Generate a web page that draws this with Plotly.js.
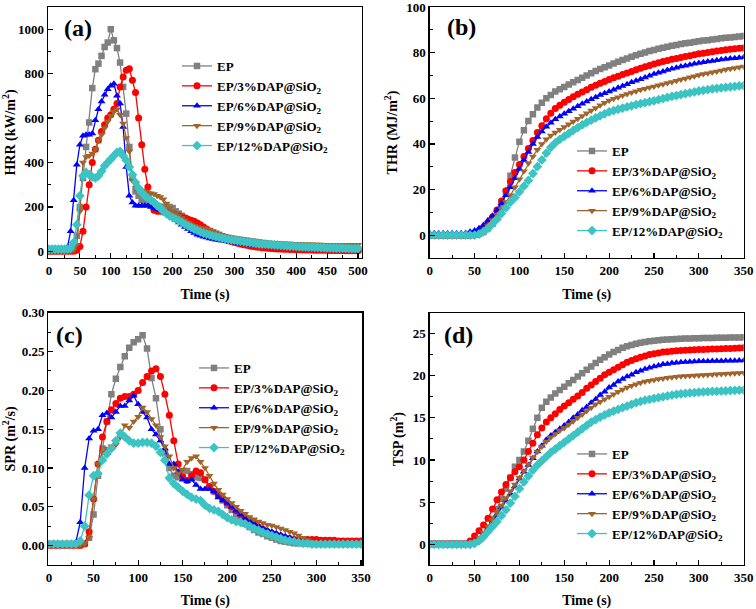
<!DOCTYPE html>
<html><head><meta charset="utf-8">
<script src="https://cdn.plot.ly/plotly-3.0.1.min.js"></script>
<style>html,body{margin:0;padding:0;background:#fff}#chart{width:756px;height:609px}</style>
</head><body><div id="chart"></div>
<script>
// ---------- series names ----------
const names = ['EP','EP/3%DAP@SiO<sub>2</sub>','EP/6%DAP@SiO<sub>2</sub>','EP/9%DAP@SiO<sub>2</sub>','EP/12%DAP@SiO<sub>2</sub>'];
// sampling: every 5 s starting at 0 s
const T_START = 0, T_STEP = 5;

// ---------- (a) HRR, kW/m2, 0-500 s ----------
const hrrEP = [5,5,5,5,5,5,5,8,20,70, 200,330,470,580,735,820,845,880,920,940, 1000,950,915,850,740,620,470,330,270,250,
 232,225,220,215,210,205,200,200,200,200, 195,180,170,160,150,140,130,122,115,107, 100,94,88,83,78,73,68,64,61,58,
 56,54,52,50,48,46,44,42,40,38, 36,34,33,32,30,29,28,27,26,25, 24,23,22,21,20,19,18,18,17,16, 16,15,14,14,13,13,12,12,11,11, 10];
const hrr3 = [0,0,0,0,0,0,0,0,0,5, 22,90,200,300,400,460,500,540,570,600, 615,640,665,740,785,815,822,770,715,600,
 480,370,290,220,185,180,180,178,175,172, 170,165,160,155,150,145,140,135,128,120, 110,100,90,82,74,66,60,54,48,44,
 40,36,33,30,27,24,22,20,18,16, 15,14,13,12,11,10,9,9,8,8, 7,7,6,6,6,6,5,5,5,5, 5,4,4,4,4,4,3,3,3,3, 3];
const hrr6 = [5,10,10,10,10,5,20,90,230,390, 480,520,525,525,530,590,640,675,705,730, 745,755,700,665,560,380,250,220,205,205,
 205,205,205,200,195,190,185,180,170,160, 150,140,130,120,110,100,90,82,75,70, 66,62,58,55,52,50,48,46,44,42,
 40,38,36,34,32,30,29,28,27,26, 25,24,23,22,21,20,19,18,17,16, 15,14,14,13,13,12,12,11,11,10, 10,10,9,9,9,8,8,8,8,8, 8];
const hrr9 = [0,0,0,0,0,0,0,0,5,30, 180,400,425,430,440,460,500,525,555,585, 610,630,640,615,575,510,450,320,285,280,
 275,270,265,262,258,250,245,235,215,195, 180,170,160,150,140,130,122,115,110,106, 104,102,98,92,86,80,74,68,64,60,
 58,55,53,51,49,47,45,44,43,42, 41,40,39,38,37,36,36,35,35,34, 34,33,33,32,32,32,31,31,31,30, 30,30,30,30,30,30,30,30,30,30, 30];
const hrr12 = [10,10,10,10,10,10,10,15,40,120, 250,340,355,345,335,330,340,360,385,400, 415,430,445,450,430,410,380,345,310,285,
 265,250,240,230,220,205,195,180,170,160, 152,145,138,130,122,115,108,100,94,88, 82,78,74,70,66,63,60,57,54,52,
 50,48,46,44,42,40,38,36,34,33, 32,31,30,29,28,27,26,25,24,23, 22,21,20,20,19,19,18,18,17,17, 16,16,15,15,14,14,13,13,12,12, 12];

// ---------- (b) THR, MJ/m2, 0-350 s ----------
const thrEP = [0,0,0,0,0,0,0,0,0,0, 0.2,0.5,1.5,3,5,7.5,12,19,26,34, 41,46,50,53,56,58,60,61.5,63,64,
 65,66,67,68,69,70,71,72,72.8,73.6, 74.4,75.2,76,76.8,77.5,78.2,78.9,79.5,80.1,80.7, 81.2,81.7,82.2,82.6,83,83.4,83.8,84.1,84.4,84.7,
 85,85.3,85.5,85.8,86,86.3,86.5,86.7,86.9,87.1, 87.3];
const thr3 = [0,0,0,0,0,0,0,0,0,0, 0.5,1.5,3,5,8,11,15,19.5,23.5,27.5, 31,34.5,38,41.5,45,48,51,53.5,55.5,57,
 58.3,59.5,60.7,61.8,62.8,63.8,64.8,65.7,66.6,67.4, 68.2,69,69.7,70.4,71.1,71.8,72.5,73.2,73.8,74.4, 75,75.6,76.1,76.6,77.1,77.5,77.9,78.3,78.7,79.1,
 79.5,79.8,80.1,80.4,80.7,81,81.3,81.5,81.7,81.9, 82.1];
const thr6 = [0.8,0.8,0.8,0.8,0.8,0.8,0.8,0.8,1,1.5, 2,3,4.5,6.5,8.5,11,14,17.5,21,25, 29,33,36.5,40,43,45.5,47.5,49.3,50.8,52,
 53.2,54.3,55.4,56.5,57.6,58.6,59.6,60.5,61.4,62.2, 63,63.8,64.6,65.4,66.2,67,67.7,68.4,69.1,69.9, 70.6,71.2,71.8,72.4,72.9,73.4,73.9,74.3,74.7,75.1,
 75.5,75.8,76.1,76.4,76.7,77,77.2,77.4,77.6,77.8, 78];
const thr9 = [0,0,0,0,0,0,0,0,0,0, 0,0.5,2,4,6.5,9,11.5,14.5,17.5,21, 24.5,28,31.5,34.5,37.5,40,42,43.7,45,46.2,
 47.4,48.6,49.8,51,52.2,53.4,54.6,55.8,57,58, 59,59.8,60.5,61.2,61.9,62.5,63.1,63.7,64.2,64.7, 65.2,65.7,66.2,66.7,67.2,67.7,68.2,68.7,69.2,69.7,
 70.2,70.6,71,71.4,71.8,72.2,72.6,73,73.3,73.6, 73.9];
const thr12 = [0,0,0,0,0,0,0,0,0,0, 0,0.5,1.5,3,5,7,9.5,12,14.5,16.5, 19,21.5,24,27,30,33,36,38.5,40.5,42,
 43.3,44.6,45.9,47.1,48.3,49.4,50.4,51.4,52.3,53.2, 54,54.6,55.2,55.7,56.2,56.7,57.2,57.7,58.1,58.5, 58.9,59.4,59.9,60.4,60.8,61.2,61.6,62,62.4,62.8,
 63.2,63.5,63.8,64.1,64.4,64.6,64.8,65,65.2,65.4, 65.6];

// ---------- (c) SPR, m2/s, 0-350 s ----------
const sprEP = [0.002,0.002,0.002,0.002,0.002,0.002,0.002,0.002,0.003,0.01, 0.04,0.09,0.125,0.16,0.195,0.215,0.23,0.244,0.255,0.262,
 0.266,0.271,0.254,0.216,0.19,0.15,0.12,0.1,0.09,0.088, 0.092,0.096,0.092,0.088,0.087,0.085,0.075,0.07,0.065,0.058,
 0.052,0.046,0.04,0.034,0.028,0.024,0.02,0.017,0.015,0.012, 0.01,0.008,0.006,0.005,0.004,0.003,0.003,0.003,0.003,0.002,
 0.002,0.002,0.002,0.002,0.002,0.002,0.002,0.002,0.002,0.002, 0.002];
const spr3 = [0,0,0,0,0,0,0,0,0.002,0.018, 0.06,0.105,0.14,0.16,0.175,0.183,0.19,0.192,0.192,0.195,
 0.2,0.21,0.218,0.225,0.228,0.218,0.195,0.168,0.135,0.105, 0.088,0.084,0.09,0.096,0.094,0.085,0.076,0.07,0.065,0.06,
 0.055,0.05,0.045,0.04,0.036,0.032,0.028,0.024,0.021,0.018, 0.016,0.014,0.012,0.01,0.009,0.008,0.008,0.008,0.008,0.008,
 0.008,0.007,0.007,0.007,0.007,0.006,0.006,0.006,0.006,0.006, 0.006];
const spr6 = [0.002,0.002,0.002,0.002,0.002,0.002,0.004,0.03,0.1,0.138, 0.148,0.15,0.168,0.171,0.165,0.172,0.18,0.18,0.187,0.193,
 0.182,0.172,0.165,0.15,0.143,0.135,0.125,0.105,0.105,0.095, 0.085,0.083,0.085,0.078,0.073,0.073,0.073,0.07,0.062,0.058,
 0.055,0.05,0.045,0.04,0.035,0.031,0.028,0.025,0.022,0.02, 0.018,0.016,0.014,0.012,0.01,0.008,0.007,0.006,0.005,0.004,
 0.004,0.003,0.003,0.003,0.003,0.003,0.003,0.003,0.003,0.003, 0.003];
const spr9 = [0,0,0,0,0,0,0,0,0.002,0.01, 0.06,0.105,0.12,0.125,0.128,0.13,0.14,0.155,0.152,0.16,
 0.166,0.178,0.172,0.163,0.155,0.14,0.128,0.115,0.1,0.093, 0.098,0.108,0.113,0.115,0.108,0.1,0.09,0.08,0.072,0.066,
 0.06,0.055,0.05,0.045,0.041,0.037,0.034,0.031,0.029,0.027, 0.026,0.024,0.022,0.02,0.018,0.016,0.013,0.01,0.007,0.005,
 0.003,0.002,0.002,0.002,0.002,0.002,0.002,0.002,0.002,0.002, 0.002];
const spr12 = [0.002,0.002,0.002,0.002,0.002,0.002,0.002,0.006,0.025,0.065, 0.09,0.093,0.11,0.118,0.125,0.135,0.145,0.14,0.135,0.132,
 0.132,0.133,0.133,0.132,0.128,0.12,0.11,0.087,0.08,0.075, 0.07,0.066,0.062,0.06,0.058,0.052,0.048,0.046,0.044,0.04,
 0.036,0.033,0.031,0.03,0.028,0.025,0.022,0.02,0.017,0.015, 0.013,0.011,0.009,0.007,0.006,0.005,0.004,0.003,0.003,0.002,
 0.002,0.002,0.002,0.002,0.002,0.002,0.002,0.002,0.002,0.002, 0.002];

// ---------- (d) TSP, m2, 0-350 s ----------
const tspEP = [0,0,0,0,0,0,0,0,0,0.1, 0.3,0.6,1.2,2,3,4.2,5.4,6.6,7.9,9.2, 10,11,12.3,13.7,15,16.2,16.9,17.4,17.9,18.3,
 18.7,19.1,19.5,19.9,20.3,20.7,21.1,21.5,21.9,22.2, 22.5,22.8,23.05,23.3,23.5,23.65,23.8,23.9,24,24.1,
 24.15,24.2,24.25,24.3,24.33,24.36,24.38,24.4,24.42,24.44, 24.45,24.46,24.47,24.48,24.49,24.5,24.51,24.52,24.53,24.54, 24.55];
const tsp3 = [0.1,0.1,0.1,0.1,0.1,0.1,0.1,0.1,0.1,0.4, 1,1.6,2.3,3.1,4.2,5.3,6.2,7.1,7.9,8.6, 9.2,10,11,12,13,13.8,14.5,15,15.5,16,
 16.4,16.8,17.2,17.6,18,18.5,18.9,19.3,19.7,20.1, 20.4,20.7,21,21.3,21.6,21.8,22,22.2,22.35,22.5,
 22.6,22.7,22.8,22.85,22.9,22.95,23,23.03,23.06,23.09, 23.1,23.12,23.14,23.16,23.18,23.2,23.22,23.24,23.26,23.28, 23.3];
const tsp6 = [0.1,0.1,0.1,0.1,0.1,0.1,0.1,0.1,0.1,0.1, 0.2,0.6,1.2,1.9,2.7,3.5,4.4,5.2,6,6.9, 7.8,8.6,9.4,10.2,11,11.7,12.4,12.9,13.3,13.7,
 14.1,14.5,15,15.4,15.9,16.3,16.8,17.2,17.7,18.1, 18.6,18.9,19.3,19.6,19.9,20.1,20.4,20.6,20.8,20.95,
 21.1,21.2,21.35,21.4,21.5,21.55,21.6,21.62,21.64,21.67, 21.7,21.71,21.72,21.73,21.74,21.75,21.76,21.77,21.78,21.79, 21.8];
const tsp9 = [0,0,0,0,0,0,0,0,0,0.1, 0.3,0.8,1.4,2.1,2.9,3.8,4.6,5.5,6.3,7.1, 7.9,8.7,9.5,10.3,11,11.6,12.2,12.7,13.1,13.5,
 13.8,14.2,14.6,15,15.4,15.8,16.2,16.6,16.9,17.2, 17.5,17.8,18.1,18.35,18.6,18.8,19,19.15,19.3,19.4,
 19.5,19.6,19.68,19.75,19.82,19.88,19.93,19.97,20,20.03, 20.05,20.08,20.11,20.14,20.17,20.2,20.23,20.26,20.29,20.32, 20.35];
const tsp12 = [0,0,0,0,0,0,0,0,0,0, 0.1,0.4,0.9,1.5,2.1,2.7,3.4,4.1,4.9,5.7, 6.6,7.4,8.1,8.8,9.4,9.9,10.4,10.9,11.3,11.7,
 12.1,12.5,12.9,13.3,13.7,14.1,14.5,14.8,15.1,15.35, 15.6,15.8,16,16.2,16.4,16.6,16.8,16.95,17.1,17.2,
 17.3,17.4,17.5,17.6,17.7,17.78,17.85,17.9,17.95,18, 18.05,18.08,18.1,18.13,18.15,18.18,18.2,18.23,18.25,18.28, 18.3];

// ---------- styling ----------
const colors = ['#808080','#ff0000','#0000ff','#a0642a','#3cc3c3'];
const symbols = ['square','circle','triangle-up','triangle-down','diamond'];
const msize = [6.5,7,7,7,7.5];
const FONT = 'Liberation Serif';

const panels = [
  {data:[hrrEP,hrr3,hrr6,hrr9,hrr12], xa:'x', ya:'y', leg:'legend'},
  {data:[thrEP,thr3,thr6,thr9,thr12], xa:'x2', ya:'y2', leg:'legend2'},
  {data:[sprEP,spr3,spr6,spr9,spr12], xa:'x3', ya:'y3', leg:'legend3'},
  {data:[tspEP,tsp3,tsp6,tsp9,tsp12], xa:'x4', ya:'y4', leg:'legend4'}
];
const traces = [];
panels.forEach(p => {
  p.data.forEach((arr, i) => {
    traces.push({
      type:'scatter', mode:'lines+markers', name:names[i],
      x0:T_START, dx:T_STEP, y:arr, xaxis:p.xa, yaxis:p.ya, legend:p.leg,
      line:{color:colors[i], width:1.3},
      marker:{symbol:symbols[i], size:msize[i], color:colors[i]}
    });
  });
});

const W = 756, H = 609;
const px = (a,b) => [a/W, b/W];
const py = (top,bot) => [1-bot/H, 1-top/H];
const tickF = {family:FONT, size:13, color:'#000', weight:'bold'};
const titleF = {family:FONT, size:14, color:'#000', weight:'bold'};

function axis(dom, range, dtick, minorD, titleText, anchor, standoff, extra) {
  return Object.assign({
    domain:dom, range:range, anchor:anchor, dtick:dtick, tick0:0,
    showline:true, mirror:true, linecolor:'#000', linewidth:1.3,
    ticks:'inside', ticklen:5, tickwidth:1.2, tickcolor:'#000',
    minor:{ticks:'inside', ticklen:3, tickwidth:1, tickcolor:'#000', dtick:minorD, tick0:0},
    showgrid:false, zeroline:false, tickfont:tickF, ticklabeloverflow:'allow',
    title:{text:titleText, font:titleF, standoff:standoff}, automargin:false
  }, extra||{});
}

const legendBase = {xanchor:'left', yanchor:'top', bgcolor:'rgba(0,0,0,0)', borderwidth:0,
  font:{family:FONT, size:13, color:'#000', weight:'bold'}, itemwidth:30, tracegroupgap:0,
  xref:'paper', yref:'paper'};

const layout = {
  width:W, height:H, margin:{l:0,r:0,t:0,b:0}, paper_bgcolor:'#fff', plot_bgcolor:'#fff',
  showlegend:true,
  xaxis: axis(px(48,362), [-1.6,506.4], 50, 25, 'Time (s)', 'y', 12),
  yaxis: axis(py(7,258), [-30,1100], 200, 100, 'HRR (kW/m<sup>2</sup>)', 'x', 4),
  xaxis2: axis(px(429.7,743.7), [0,350], 50, 25, 'Time (s)', 'y2', 12),
  yaxis2: axis(py(7,258), [-10,100.02], 20, 10, 'THR (MJ/m<sup>2</sup>)', 'x2', 5),
  xaxis3: axis(px(48.3,362.3), [-0.8,351.5], 50, 25, 'Time (s)', 'y3', 12),
  yaxis3: axis(py(312.7,565), [-0.025,0.3001], 0.05, 0.025, 'SPR (m<sup>2</sup>/s)', 'x3', 4, {tickformat:'.2f'}),
  xaxis4: axis(px(429.7,743.7), [0,350], 50, 25, 'Time (s)', 'y4', 12),
  yaxis4: axis(py(313.3,565), [-2.45,27.4], 5, 2.5, 'TSP (m<sup>2</sup>)', 'x4', 6),
  legend:  Object.assign({}, legendBase, {x:177/W, y:1-51/H}),
  legend2: Object.assign({}, legendBase, {x:572/W, y:1-136/H}),
  legend3: Object.assign({}, legendBase, {x:194/W, y:1-353/H}),
  legend4: Object.assign({}, legendBase, {x:572/W, y:1-439/H}),
  annotations: [
    {text:'(a)', x:62/W, y:1-28/H, xanchor:'left', yanchor:'middle'},
    {text:'(b)', x:445/W, y:1-27/H, xanchor:'left', yanchor:'middle'},
    {text:'(c)', x:54/W, y:1-335/H, xanchor:'left', yanchor:'middle'},
    {text:'(d)', x:442/W, y:1-335/H, xanchor:'left', yanchor:'middle'}
  ].map(a => Object.assign(a, {xref:'paper', yref:'paper', showarrow:false,
        font:{family:FONT, size:24, color:'#000', weight:'bold'}}))
};

Plotly.newPlot('chart', traces, layout, {staticPlot:true, displayModeBar:false});
</script></body></html>
